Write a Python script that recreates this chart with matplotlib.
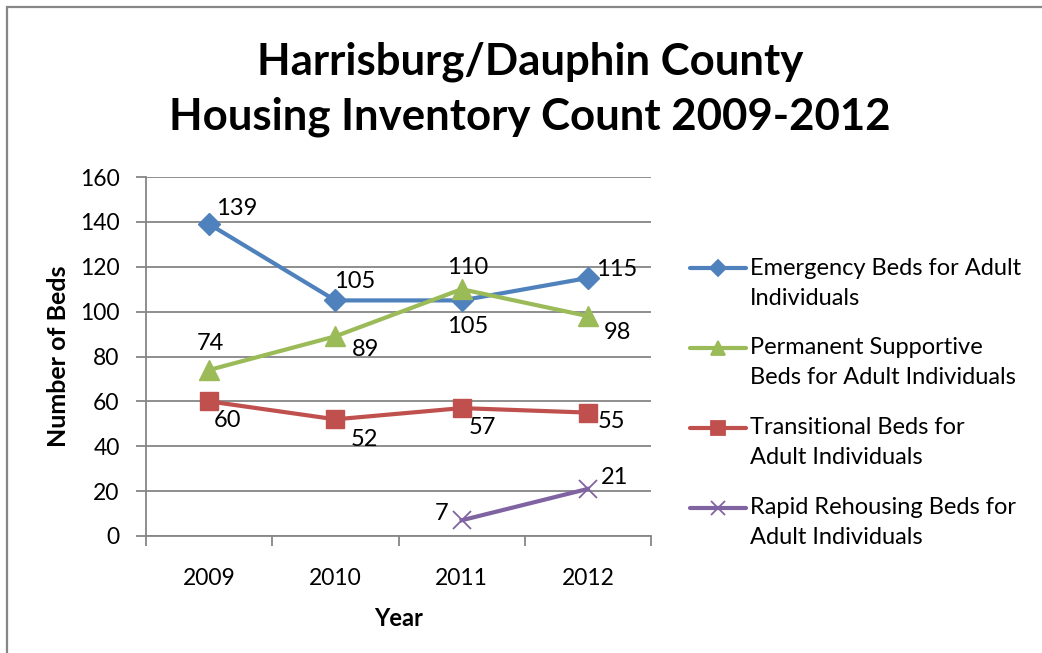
import matplotlib.pyplot as plt
from matplotlib.lines import Line2D
from matplotlib.patches import Rectangle

plt.rcParams['font.family'] = ['Lato', 'DejaVu Sans']

years = ['2009', '2010', '2011', '2012']
emergency = [139, 105, 105, 115]
permanent = [74, 89, 110, 98]
transitional = [60, 52, 57, 55]
rapid_years = ['2011', '2012']
rapid = [7, 21]

series_names = ['Emergency Beds for Adult\nIndividuals',
                'Permanent Supportive\nBeds for Adult Individuals',
                'Transitional Beds for\nAdult Individuals',
                'Rapid Rehousing Beds for\nAdult Individuals']

# label offsets in points (dx, dy)
emergency_off = [(20, 11.5), (14, 13.5), (4, -19), (21, 6)]
permanent_off = [(1, 19), (21.5, -9.5), (4.5, 15.5), (21, -12)]
transitional_off = [(13.5, -14), (21, -14.5), (15, -14), (17, -6.5)]
rapid_off = [(-14.5, 5), (19, 8)]

blue = '#4F81BD'
green = '#9BBB59'
red = '#C0504D'
purple = '#8064A2'
grid_c = '#868686'

W, H = 1042, 653
fig = plt.figure(figsize=(W / 100, H / 100), dpi=100)
ax = fig.add_axes([146 / W, 1 - 536 / H, 505 / W, 359 / H])

fig.patches.append(Rectangle((7 / W, -0.1), 1.2, (H - 7) / H + 0.1, transform=fig.transFigure,
                             fill=False, ec=grid_c, lw=1.6))

xi = {y: i for i, y in enumerate(years)}
lw = 3.0
ax.plot([xi[y] for y in years], emergency, color=blue, lw=lw, marker='D', ms=11, zorder=3)
ax.plot([xi[y] for y in years], permanent, color=green, lw=lw, marker='^', ms=14, zorder=3)
ax.plot([xi[y] for y in years], transitional, color=red, lw=lw, marker='s', ms=13, zorder=3)
ax.plot([xi[y] for y in rapid_years], rapid, color=purple, lw=lw, marker='x', ms=13, mew=1.3, zorder=3)


def label(xs, vals, offs):
    for x, v, (dx, dy) in zip(xs, vals, offs):
        ax.annotate(str(v), (x, v), xytext=(dx, dy), textcoords='offset points',
                    ha='center', va='center', fontsize=17, color='black')


label([xi[y] for y in years], emergency, emergency_off)
label([xi[y] for y in years], permanent, permanent_off)
label([xi[y] for y in years], transitional, transitional_off)
label([xi[y] for y in rapid_years], rapid, rapid_off)

ax.set_xlim(-0.5, len(years) - 0.5)
ax.set_ylim(0, 160)
ax.set_yticks(range(0, 161, 20))
ax.set_xticks(range(len(years)))
ax.set_xticklabels(years)
ax.set_xticks([i - 0.5 for i in range(len(years) + 1)], minor=True)
ax.tick_params(axis='x', which='major', length=0, pad=23, labelsize=16.5)
ax.tick_params(axis='x', which='minor', length=7, width=1.3, color=grid_c, direction='out')
ax.tick_params(axis='y', length=7, width=1.3, color=grid_c, pad=12, labelsize=16.5)
ax.grid(axis='y', color=grid_c, lw=1.3)
ax.set_axisbelow(True)
for s in ['top', 'right']:
    ax.spines[s].set_visible(False)
for s in ['left', 'bottom']:
    ax.spines[s].set_color(grid_c)
    ax.spines[s].set_linewidth(1.3)

ax.set_xlabel('Year', fontsize=17, fontweight='bold', labelpad=13)
fig.text(58 / W, 1 - 356 / H, 'Number of Beds', rotation=90, ha='center', va='center',
         fontsize=18, fontweight='bold')

fig.text(530 / W, 1 - 62 / H, 'Harrisburg/Dauphin County', ha='center', va='center',
         fontsize=31.5, fontweight='bold')
fig.text(530 / W, 1 - 117 / H, 'Housing Inventory Count 2009-2012', ha='center', va='center',
         fontsize=31.5, fontweight='bold')

# legend, handle aligned with first text line like Excel
styles = [(blue, 'D', 8), (green, '^', 10), (red, 's', 10), (purple, 'x', 10)]
for k, (name, (c, m, ms)) in enumerate(zip(series_names, styles)):
    yc = 1 - (268 + 80 * k) / H
    fig.add_artist(Line2D([690 / W, 746 / W], [yc, yc], transform=fig.transFigure, color=c,
                          lw=lw, solid_capstyle='round'))
    fig.add_artist(Line2D([718 / W], [yc], transform=fig.transFigure, color=c,
                          marker=m, ms=ms, mew=1.3, ls='none'))
    for j, line in enumerate(name.split('\n')):
        fig.text(750 / W, yc - 30 * j / H, line, ha='left', va='center', fontsize=17)

fig.savefig('out.png', dpi=100)
